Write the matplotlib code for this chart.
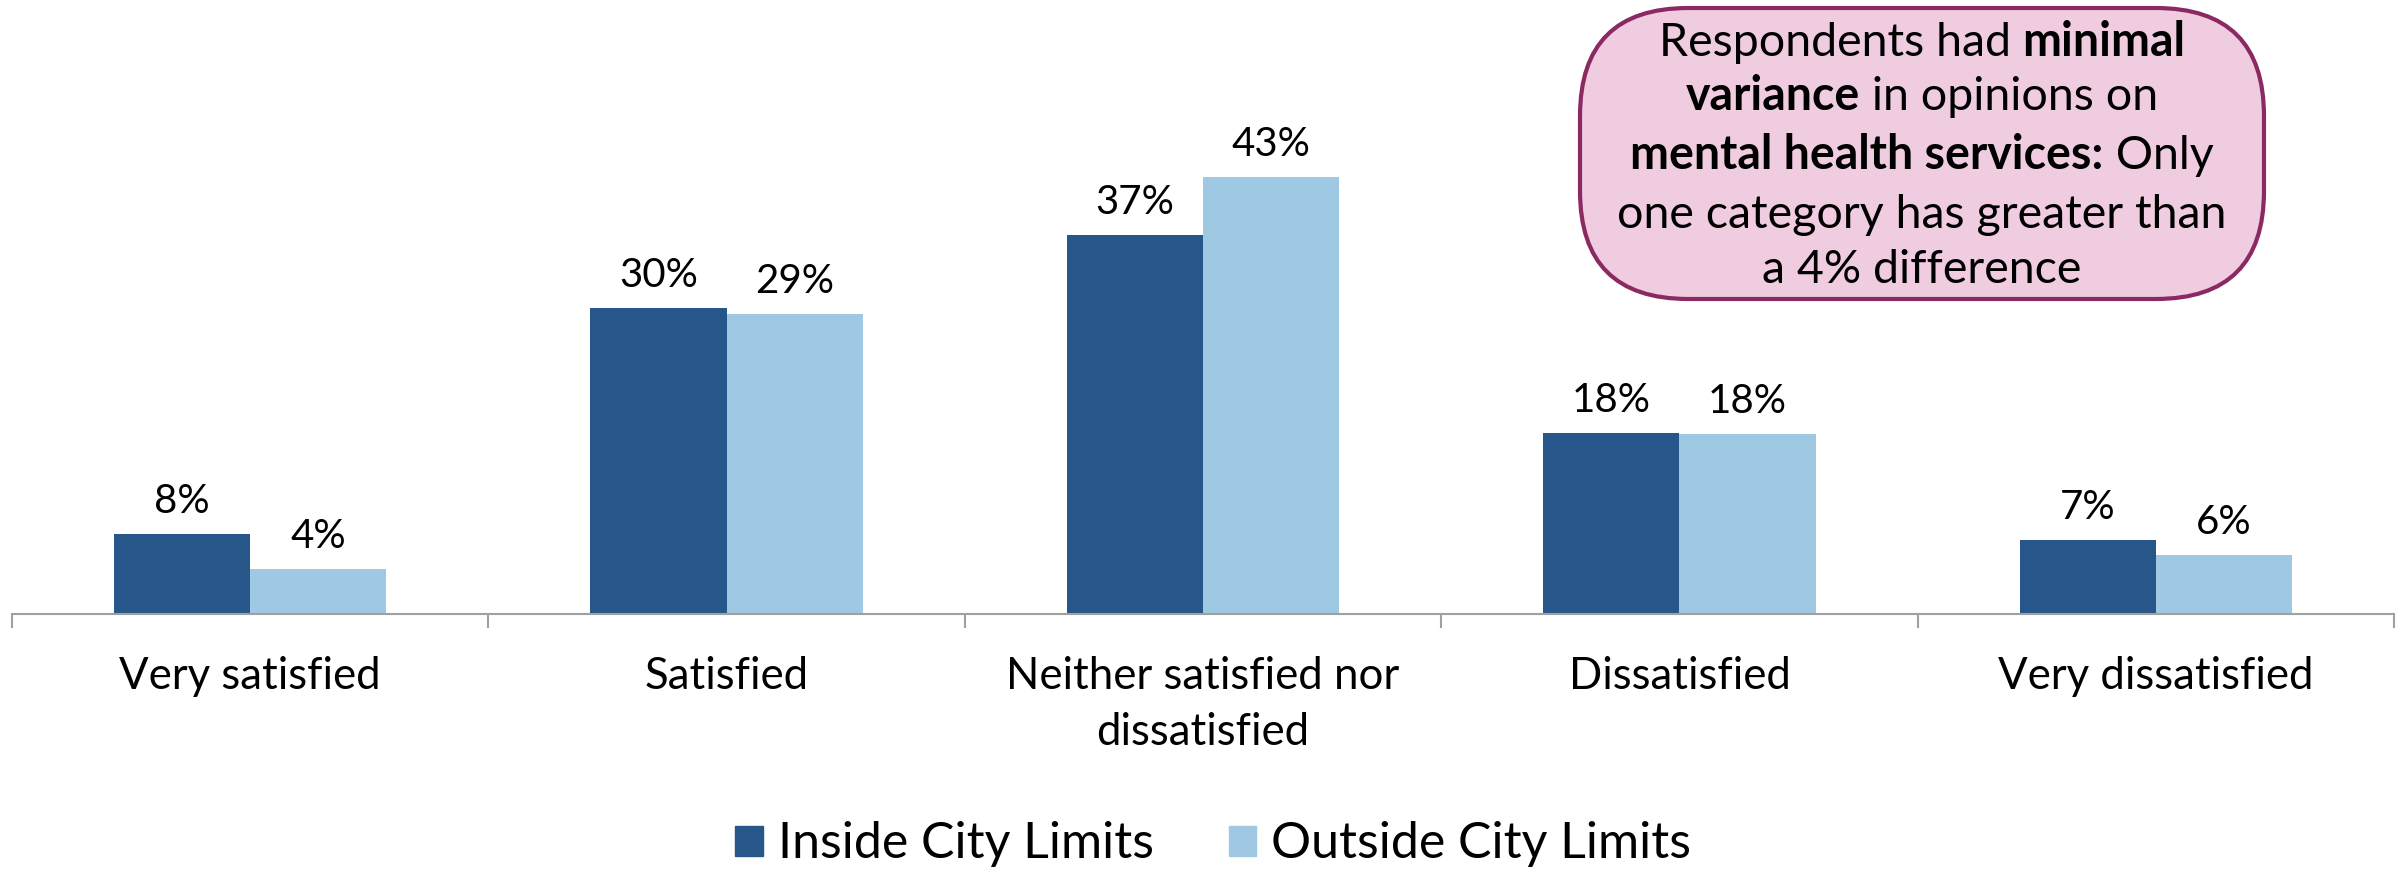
import matplotlib
matplotlib.use("Agg")
import matplotlib.pyplot as plt
from matplotlib.patches import FancyBboxPatch, Patch
import numpy as np

categories = ["Very satisfied", "Satisfied", "Neither satisfied nor\ndissatisfied",
              "Dissatisfied", "Very dissatisfied"]
inside = [7.9, 30.0, 37.2, 17.8, 7.3]
outside = [4.4, 29.4, 42.9, 17.7, 5.8]
series_names = ["Inside City Limits", "Outside City Limits"]

plt.rcParams['font.family'] = ['Lato', 'DejaVu Sans']

DARK = "#27578A"
LIGHT = "#9FC8E2"

fig = plt.figure(figsize=(24.02, 8.75), dpi=100)
ax = fig.add_axes([0.005, 0.298, 0.9917, 0.583])

x = np.arange(len(categories))
w = 0.286
b1 = ax.bar(x - w / 2, inside, w, color=DARK)
b2 = ax.bar(x + w / 2, outside, w, color=LIGHT)

for bars, vals in ((b1, inside), (b2, outside)):
    for r, v in zip(bars, vals):
        ax.annotate(f"{round(v)}%", (r.get_x() + r.get_width() / 2, v),
                    xytext=(0, 10), textcoords="offset points",
                    ha="center", va="bottom", fontsize=29)

ax.set_xlim(-0.5, len(categories) - 0.5)
ax.set_ylim(0, 50)
for s in ("top", "right", "left"):
    ax.spines[s].set_visible(False)
ax.spines["bottom"].set_color("#A0A0A0")
ax.spines["bottom"].set_linewidth(1.5)
ax.set_yticks([])
ax.set_xticks(np.arange(-0.5, len(categories)), minor=False)
ax.set_xticklabels([])
ax.tick_params(axis="x", direction="out", length=10, width=1.5, color="#A0A0A0")
for i, c in enumerate(categories):
    ax.text(i, -0.082, c, transform=ax.get_xaxis_transform(), ha="center", va="top",
            fontsize=31.5, linespacing=1.45)

handles = [Patch(color=DARK, label=series_names[0]), Patch(color=LIGHT, label=series_names[1])]
fig.legend(handles=handles, loc="center", bbox_to_anchor=(0.505, 0.035), ncol=2,
           frameon=False, fontsize=36, handlelength=0.55, handleheight=0.55,
           handletextpad=0.3, columnspacing=1.5)

# Annotation box
bx0, by0, bx1, by1 = 1580 / 2402, 1 - 299 / 875, 2264 / 2402, 1 - 8 / 875
box = FancyBboxPatch((bx0, by0), bx1 - bx0, by1 - by0, transform=fig.transFigure,
                     boxstyle="round,pad=0,rounding_size=0.045", mutation_aspect=2402 / 875,
                     facecolor="#EFCCE0", edgecolor="#8B2A62", linewidth=3)
fig.patches.append(box)

lines = [
    [("Respondents had ", "normal"), ("minimal", "bold")],
    [("variance", "bold"), (" in opinions on", "normal")],
    [("mental health services:", "bold"), (" Only", "normal")],
    [("one category has greater than", "normal")],
    [("a 4% difference", "normal")],
]
renderer = fig.canvas.get_renderer()
cx = (bx0 + bx1) / 2 * 2402
line_ys = [832, 778, 719, 660, 605]  # pixel y from bottom (centre of line)
for parts, ly in zip(lines, line_ys):
    texts = []
    widths = []
    for s, wt in parts:
        t = fig.text(0, 0, s, fontsize=33.5, fontweight=wt, ha="left", va="baseline",
                     transform=None)
        texts.append(t)
        widths.append(t.get_window_extent(renderer).width)
    total = sum(widths)
    xs = cx - total / 2
    for t, wd in zip(texts, widths):
        t.set_position((xs, ly - 13))
        xs += wd

fig.savefig("out.png", dpi=100)
